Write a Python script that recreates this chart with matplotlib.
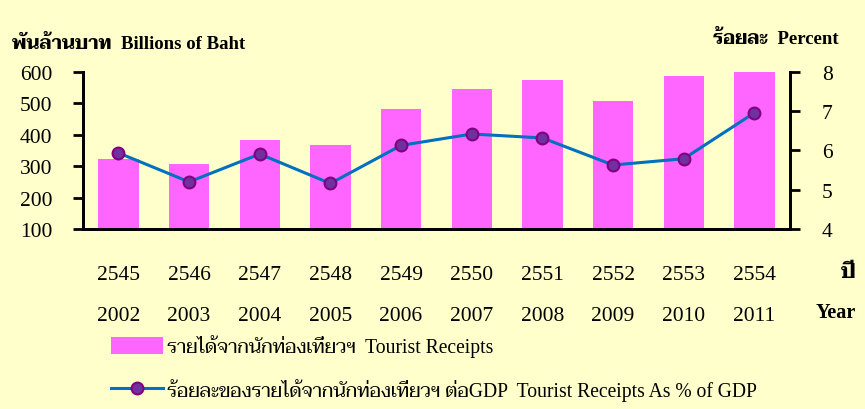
import matplotlib
matplotlib.use("Agg")
import matplotlib.pyplot as plt
from matplotlib.patches import Patch
from matplotlib.lines import Line2D
import numpy as np

# data
years_be = ["2545", "2546", "2547", "2548", "2549", "2550", "2551", "2552", "2553", "2554"]
years_ad = ["2002", "2003", "2004", "2005", "2006", "2007", "2008", "2009", "2010", "2011"]
receipts = [323, 308, 384, 366, 481, 547, 573, 509, 586, 601]
pct_gdp = [5.94, 5.20, 5.91, 5.16, 6.13, 6.42, 6.32, 5.63, 5.79, 6.96]

fam = ["Liberation Serif", "Taviraj", "DejaVu Sans"]
plt.rcParams['font.family'] = fam

bg = "#FFFFCC"
pink = "#FF66FF"
blue = "#0070C0"
fig = plt.figure(figsize=(8.65, 4.10), dpi=100, facecolor=bg)
ax = fig.add_axes([0.096, 0.439, 0.817, 0.383])
ax.set_facecolor(bg)
x = np.arange(len(years_be))

ax.bar(x, receipts, width=0.57, color=pink)
ax.set_ylim(100, 600)
ax.set_xlim(-0.5, len(x) - 0.5)
ax.set_yticks([100, 200, 300, 400, 500, 600])
ax.tick_params(axis='y', labelsize=15.5, width=2, length=7, pad=15)
ax.set_xticks(x)
ax.set_xticklabels([b + "\n\n" + a for b, a in zip(years_be, years_ad)], linespacing=1.1)
ax.tick_params(axis='x', length=0, labelsize=15.5, pad=26)
for s in ["left", "bottom", "right"]:
    ax.spines[s].set_linewidth(2)
ax.spines["top"].set_visible(False)

ax2 = ax.twinx()
ax2.plot(x, pct_gdp, color=blue, lw=2.2, marker="o", ms=8.5,
         mfc="#7030A0", mec="#800080", mew=1.5, zorder=3)
ax2.set_ylim(4, 8)
ax2.set_yticks([4, 5, 6, 7, 8])
ax2.tick_params(axis='y', labelsize=15.5, width=2, length=7, pad=16)
for s in ["left", "bottom", "right"]:
    ax2.spines[s].set_linewidth(2)
ax2.spines["top"].set_visible(False)

fig.text(0.014, 0.893, "พันล้านบาท  Billions of Baht", fontsize=13.5, fontweight="bold", va="center")
fig.text(0.969, 0.905, "ร้อยละ  Percent", fontsize=13.5, fontweight="bold", va="center", ha="right")
fig.text(0.981, 0.335, "ปี", fontsize=15, fontweight="bold", va="center", ha="center")
fig.text(0.966, 0.236, "Year", fontsize=14.5, fontweight="bold", va="center", ha="center")

handles = [Patch(facecolor=pink, edgecolor="none"),
           Line2D([], [], color=blue, lw=2.2, marker="o", ms=8.5,
                  mfc="#7030A0", mec="#800080", mew=1.5)]
labels = ["รายได้จากนักท่องเที่ยวฯ  Tourist Receipts",
          "ร้อยละของรายได้จากนักท่องเที่ยวฯ ต่อGDP  Tourist Receipts As % of GDP"]
fig.legend(handles, labels, loc="upper left", bbox_to_anchor=(0.128, 0.182),
           frameon=False, fontsize=14.1, handlelength=2.65, handleheight=0.95,
           labelspacing=1.05, handletextpad=0.2, borderpad=0, borderaxespad=0)

fig.savefig("out.png", facecolor=bg)
